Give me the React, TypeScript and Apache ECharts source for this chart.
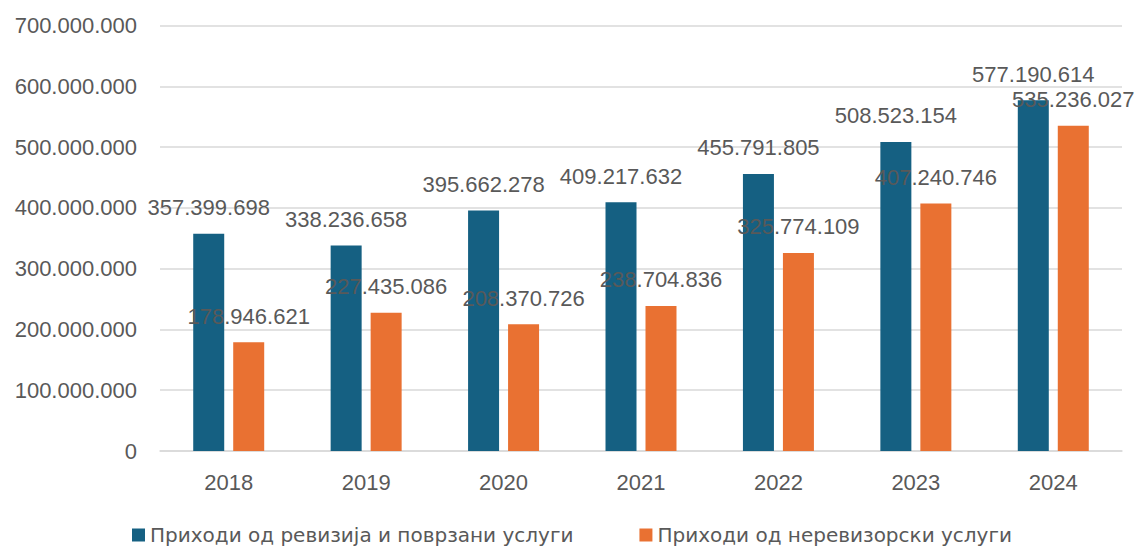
import React, { useEffect, useRef } from "react";
import * as echarts from "echarts";

const categories = ["2018", "2019", "2020", "2021", "2022", "2023", "2024"];
const auditRevenue = [357399698, 338236658, 395662278, 409217632, 455791805, 508523154, 577190614];
const nonAuditRevenue = [178946621, 227435086, 208370726, 238704836, 325774109, 407240746, 535236027];
const seriesNames = ["Приходи од ревизија и поврзани услуги", "Приходи од неревизорски услуги"];
const yTicks = { min: 0, max: 700000000, interval: 100000000 };

const fmt = (v: number) => String(Math.round(v)).replace(/\B(?=(\d{3})+(?!\d))/g, ".");

const FONT = "'Liberation Sans', Arial, sans-serif";
const TEXT = "#595959";

export default function App() {
  const ref = useRef<HTMLDivElement>(null);
  useEffect(() => {
    if (!ref.current) return;
    const chart = echarts.init(ref.current, undefined, { renderer: "svg" });
    chart.setOption({
      animation: false,
      textStyle: { fontFamily: FONT },
      grid: { left: 160, right: 17, top: 25.5, bottom: 96, containLabel: false },
      legend: {
        top: 525,
        left: 132,
        padding: 0,
        icon: "rect",
        itemWidth: 13,
        itemHeight: 13,
        itemGap: 66,
        textStyle: { fontSize: 20, color: TEXT, fontFamily: "'DejaVu Sans', sans-serif" },
        data: seriesNames,
      },
      xAxis: {
        type: "category",
        data: categories,
        axisLine: { lineStyle: { color: "#d9d9d9", width: 1.5 } },
        axisTick: { show: false },
        axisLabel: { fontSize: 22, color: TEXT, margin: 20 },
      },
      yAxis: {
        type: "value",
        min: yTicks.min,
        max: yTicks.max,
        interval: yTicks.interval,
        axisLine: { show: false },
        axisTick: { show: false },
        splitLine: { lineStyle: { color: "#d9d9d9", width: 1.5 } },
        axisLabel: { fontSize: 22, color: TEXT, margin: 23, formatter: (v: number) => fmt(v) },
      },
      series: [
        {
          name: seriesNames[0],
          type: "bar",
          data: auditRevenue,
          barWidth: 31,
          barGap: "29%",
          itemStyle: { color: "#156082" },
          label: {
            show: true,
            position: "top",
            distance: 15,
            fontSize: 22,
            color: TEXT,
            formatter: (p: any) => fmt(p.value),
          },
        },
        {
          name: seriesNames[1],
          type: "bar",
          data: nonAuditRevenue,
          barWidth: 31,
          itemStyle: { color: "#e97132" },
          label: {
            show: true,
            position: "top",
            distance: 15,
            fontSize: 22,
            color: TEXT,
            formatter: (p: any) => fmt(p.value),
          },
        },
      ],
    });
    return () => chart.dispose();
  }, []);
  return (
    <div
      ref={ref}
      style={{ position: "fixed", left: 0, top: 0, width: 1139, height: 547, overflow: "hidden", background: "#fff" }}
    />
  );
}
